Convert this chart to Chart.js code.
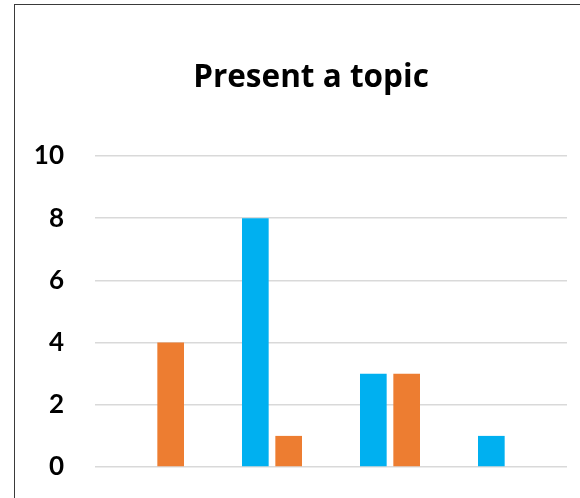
<!DOCTYPE html>
<html>
<head>
<meta charset="utf-8">
<script src="https://cdn.jsdelivr.net/npm/chart.js@4"></script>
<style>
  html, body { margin: 0; padding: 0; background: #fff; overflow: hidden; }
  #wrap { position: relative; width: 580px; height: 498px; overflow: hidden; }
  #frame { position: absolute; left: 14px; top: 4px; width: 1000px; height: 1000px;
           border: 1.5px solid #3a3a3a; box-sizing: border-box; }
  canvas { position: absolute; left: 0; top: 0; }
</style>
</head>
<body>
<div id="wrap">
  <div id="frame"></div>
  <canvas id="c" width="580" height="498"></canvas>
</div>
<script>
const categories = ['1', '2', '3', '4'];
const seriesBlue = [0, 8, 3, 1];
const seriesOrange = [4, 1, 3, 0];
const yTicks = [0, 2, 4, 6, 8, 10];

const TICK_FONT = 'Lato, "Open Sans", "DejaVu Sans", sans-serif';
const TITLE_FONT = '"Open Sans", Lato, "DejaVu Sans", sans-serif';

// let the y tick labels extend left of the axis box without being clipped
const unclipLabels = {
  id: 'unclipLabels',
  afterLayout(chart) { chart.scales.y.left = 0; }
};

new Chart(document.getElementById('c'), {
  type: 'bar',
  data: {
    labels: categories,
    datasets: [
      { label: 'Series 1', data: seriesBlue, backgroundColor: '#00B0F0',
        categoryPercentage: 0.565, barPercentage: 0.8 },
      { label: 'Series 2', data: seriesOrange, backgroundColor: '#ED7D31',
        categoryPercentage: 0.565, barPercentage: 0.8 }
    ]
  },
  plugins: [unclipLabels],
  options: {
    responsive: false,
    maintainAspectRatio: false,
    animation: false,
    layout: { padding: { left: 55, right: 13, top: 20, bottom: 31 } },
    plugins: {
      legend: { display: false },
      tooltip: { enabled: false },
      title: {
        display: true,
        text: 'Present a topic',
        color: '#000',
        font: { family: TITLE_FONT, size: 31.5, weight: 'bold', lineHeight: 1.2 },
        padding: { top: 39.1, bottom: 59.1 }
      }
    },
    scales: {
      x: { display: false },
      y: {
        min: 0, max: 10,
        afterBuildTicks: (s) => { s.ticks = yTicks.map(v => ({ value: v })); },
        afterFit: (s) => { s.width = 40; s.paddingTop = 0; s.paddingBottom = 0; },
        ticks: {
          color: '#000',
          padding: 31,
          font: { family: TICK_FONT, size: 26, weight: 'bold' }
        },
        grid: { color: '#d9d9d9', lineWidth: 1.5, drawTicks: false },
        border: { display: false }
      }
    }
  }
});
</script>
</body>
</html>
